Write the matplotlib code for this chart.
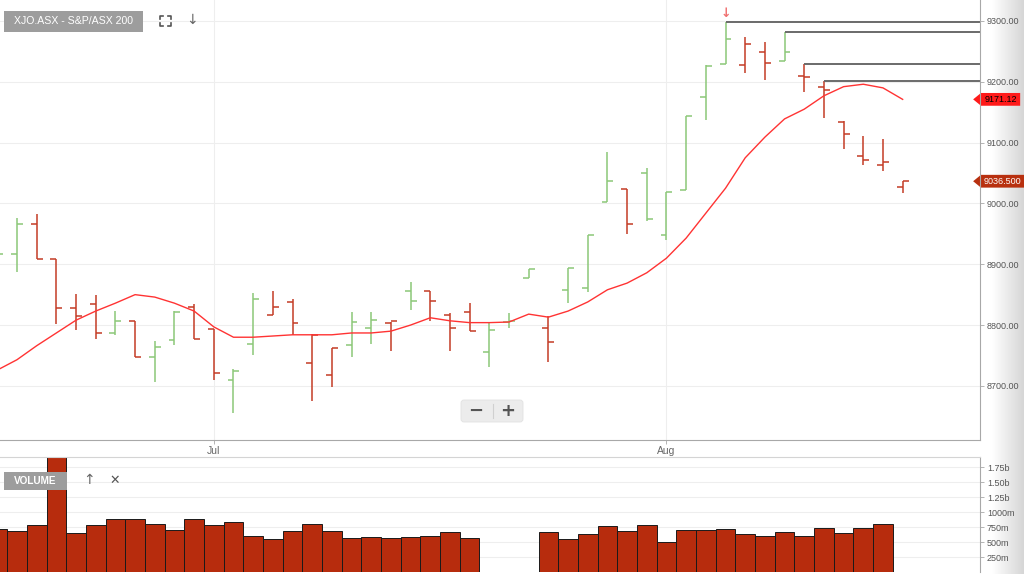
import numpy as np
import matplotlib
matplotlib.use('Agg')
import matplotlib.pyplot as plt
from matplotlib.patches import Rectangle, FancyBboxPatch, Polygon
from matplotlib.colors import LinearSegmentedColormap
from matplotlib.transforms import blended_transform_factory

plt.rcParams['font.family'] = ['Liberation Sans', 'DejaVu Sans']

# daily OHLC, day 0 .. day 46 (Jul 1 = day 11, Aug 1 = day 34)
days = np.arange(47)
opens = [8890, 8917, 8966, 8909, 8828, 8835, 8787, 8807, 8748, 8776,
         8830, 8794, 8710, 8769, 8817, 8838, 8738, 8718, 8767, 8795,
         8804, 8856, 8856, 8817, 8822, 8756, 8805, 8878, 8795, 8858,
         8861, 9002, 9024, 9050, 8948, 9022, 9175, 9229, 9228, 9249,
         9234, 9210, 9191, 9134, 9078, 9063, 9027]
highs = [8925, 8976, 8983, 8909, 8851, 8850, 8823, 8807, 8774, 8823,
         8835, 8794, 8728, 8853, 8856, 8843, 8785, 8762, 8822, 8822,
         8805, 8871, 8856, 8820, 8836, 8804, 8820, 8892, 8815, 8894,
         8948, 9085, 9024, 9058, 9019, 9144, 9228, 9298, 9274, 9265,
         9282, 9229, 9201, 9136, 9111, 9106, 9037]
lows = [8880, 8887, 8909, 8802, 8792, 8777, 8784, 8748, 8707, 8767,
        8777, 8710, 8656, 8751, 8817, 8784, 8675, 8698, 8748, 8769,
        8758, 8825, 8807, 8758, 8790, 8731, 8795, 8878, 8739, 8836,
        8854, 9002, 8950, 8971, 8940, 9022, 9137, 9229, 9215, 9203,
        9234, 9183, 9141, 9090, 9063, 9053, 9017]
closes = [8917, 8966, 8909, 8828, 8815, 8787, 8807, 8748, 8764, 8822,
          8777, 8721, 8725, 8843, 8830, 8804, 8784, 8762, 8805, 8809,
          8806, 8840, 8839, 8795, 8790, 8792, 8806, 8892, 8772, 8894,
          8948, 9037, 8966, 8974, 9019, 9144, 9226, 9270, 9262, 9231,
          9249, 9208, 9187, 9114, 9071, 9068, 9036.5]
ma = [8726, 8743, 8766, 8787, 8808, 8823, 8836, 8850, 8846, 8836,
      8823, 8797, 8780, 8780, 8782, 8784, 8784, 8784, 8787, 8787,
      8790, 8800, 8812, 8807, 8804, 8804, 8805, 8818, 8813, 8823,
      8838, 8858, 8869, 8886, 8910, 8943, 8984, 9025, 9075, 9109,
      9139, 9155, 9177, 9192, 9196, 9190, 9171.12]
# volume in millions (nan = no bar)
volume = [717, 683, 783, 1950, 650, 783, 883, 883, 800, 700,
          883, 783, 833, 600, 550, 683, 800, 683, 567, 583,
          567, 583, 600, 667, 567, np.nan, np.nan, np.nan, 667, 550,
          633, 767, 683, 783, 500, 700, 700, 717, 633, 600,
          667, 600, 733, 650, 733, 800, np.nan]
# horizontal resistance lines: start day and level
res_days = [37, 40, 41, 42]
res_levels = [9298, 9282, 9229, 9201]

price_ticks = [8700, 8800, 8900, 9000, 9100, 9200, 9300]
vol_ticks = [250, 500, 750, 1000, 1250, 1500, 1750]
vol_labels = ['250m', '500m', '750m', '1000m', '1.25b', '1.50b', '1.75b']
month_days = [11, 34]
month_labels = ['Jul', 'Aug']

GREEN = '#8cc878'
RED = '#c43c26'

W, H = 1024, 574
fig = plt.figure(figsize=(10.24, 5.74), dpi=100, facecolor='white')


def frac(x0, y0, x1, y1):
    return [x0 / W, 1 - y1 / H, (x1 - x0) / W, (y1 - y0) / H]


# grey fade on the right edge
bg = fig.add_axes([0, 0, 1, 1], zorder=-1)
bg.set_xlim(0, W)
bg.set_ylim(H, 0)
bg.axis('off')
cmap = LinearSegmentedColormap.from_list('fade', ['#ffffff', '#d6d6d6'])
bg.imshow(np.linspace(0, 1, 64)[None, :], cmap=cmap, aspect='auto',
          extent=(992, 1024, H, 0))

xlim = (0.137, 49.93)

# price panel
ax = fig.add_axes(frac(0, 0, 980, 440))
ax.set_xlim(*xlim)
ax.set_ylim(8611, 9334.5)
ax.set_axisbelow(True)
ax.grid(True, color='#eeeeee', lw=0.8)
for s in ['top', 'left']:
    ax.spines[s].set_visible(False)
ax.spines['right'].set_color('#a8a8a8')
ax.spines['bottom'].set_color('#a8a8a8')
ax.yaxis.tick_right()
ax.set_yticks(price_ticks)
ax.set_yticklabels([f'{v:.2f}' for v in price_ticks])
ax.set_xticks(month_days)
ax.set_xticklabels(month_labels)
ax.tick_params(axis='y', labelsize=6.5, labelcolor='#555555', color='#a8a8a8',
               length=3, width=0.6, pad=2)
ax.tick_params(axis='x', labelsize=7.5, labelcolor='#666666', color='#a8a8a8',
               length=3, width=0.6, pad=1)

prev = [closes[0]] + closes[:-1]
cols = [GREEN if c >= p else RED for c, p in zip(closes, prev)]
cols[0] = GREEN
ax.vlines(days, lows, highs, colors=cols, lw=1.1)
ax.hlines(opens, days - 0.3, days, colors=cols, lw=1.1)
ax.hlines(closes, days, days + 0.3, colors=cols, lw=1.1)

ax.plot(days, ma, color='#ff3333', lw=1.0)

ax.hlines(res_levels, res_days, xlim[1], colors='#6a6a6a', lw=1.4)
top_day = res_days[0]
ax.text(top_day, res_levels[0] + 14, '↓', color='#f07070', fontsize=9,
        ha='center', va='center', family='DejaVu Sans', fontweight='bold')

# value tags on the price scale
tr = blended_transform_factory(ax.transAxes, ax.transData)
for val, txt, fc, tc, right in [(ma[-1], '9171.12', '#ff1a1a', 'black', 1.041),
                                (closes[-1], '9036.500', '#b8300f', 'white', 1.045)]:
    hh = 10.5
    ax.add_patch(Polygon([(0.993, val), (1.001, val + hh), (right, val + hh),
                          (right, val - hh), (1.001, val - hh)],
                         closed=True, fc=fc, ec='none', transform=tr, clip_on=False))
    ax.text((1.001 + right) / 2, val, txt, color=tc, fontsize=6.5, ha='center',
            va='center', transform=tr, clip_on=False)

# volume panel
vax = fig.add_axes(frac(0, 457, 980, 572))
vax.set_xlim(*xlim)
vax.set_ylim(0, 1917)
vax.set_axisbelow(True)
vax.grid(True, axis='y', color='#eeeeee', lw=0.8)
vax.bar(days, volume, width=1.0, color='#b72c0d', edgecolor='#1a1a1a', lw=0.7)
for s in ['left', 'bottom']:
    vax.spines[s].set_visible(False)
vax.spines['top'].set_color('#d4d4d4')
vax.spines['right'].set_color('#a8a8a8')
vax.yaxis.tick_right()
vax.set_yticks(vol_ticks)
vax.set_yticklabels(vol_labels)
vax.set_xticks([])
vax.tick_params(axis='y', labelsize=6.5, labelcolor='#555555', color='#a8a8a8',
                length=3, width=0.6, pad=2)

# toolbar decorations in pixel space
ov = fig.add_axes([0, 0, 1, 1], zorder=5)
ov.set_xlim(0, W)
ov.set_ylim(H, 0)
ov.axis('off')
ov.patch.set_alpha(0)

ov.add_patch(Rectangle((4, 11), 139, 21, fc='#9d9d9d', ec='none'))
ov.text(73.5, 21.5, 'XJO.ASX - S&P/ASX 200', color='white', fontsize=7.6,
        ha='center', va='center')
for cx, cy, dx, dy in [(160, 16, 1, 1), (171, 16, -1, 1), (160, 26, 1, -1), (171, 26, -1, -1)]:
    ov.plot([cx, cx, cx + 3 * dx], [cy + 3 * dy, cy, cy], color='#555555', lw=1.2)
ov.text(192, 20, '↓', color='#666666', fontsize=10, ha='center', va='center',
        family='DejaVu Sans')

ov.add_patch(Rectangle((4, 472), 63, 18, fc='#9d9d9d', ec='none'))
ov.text(35.5, 481, 'VOLUME', color='white', fontsize=7.2, fontweight='bold',
        ha='center', va='center')
ov.text(89, 480, '↑', color='#666666', fontsize=10, ha='center', va='center',
        family='DejaVu Sans')
ov.text(115, 480, '✕', color='#555555', fontsize=9, ha='center', va='center',
        family='DejaVu Sans')

ov.add_patch(FancyBboxPatch((461, 400), 62, 22, boxstyle='round,pad=0,rounding_size=3',
                            fc='#ececec', ec='#e2e2e2', lw=0.6))
ov.plot([493, 493], [404, 418], color='#d0d0d0', lw=0.8)
ov.text(476, 411, '−', color='#555555', fontsize=13, fontweight='bold',
        ha='center', va='center', family='DejaVu Sans')
ov.text(508, 411, '+', color='#555555', fontsize=13, fontweight='bold',
        ha='center', va='center', family='DejaVu Sans')

fig.savefig('out.png', dpi=100, facecolor='white')
